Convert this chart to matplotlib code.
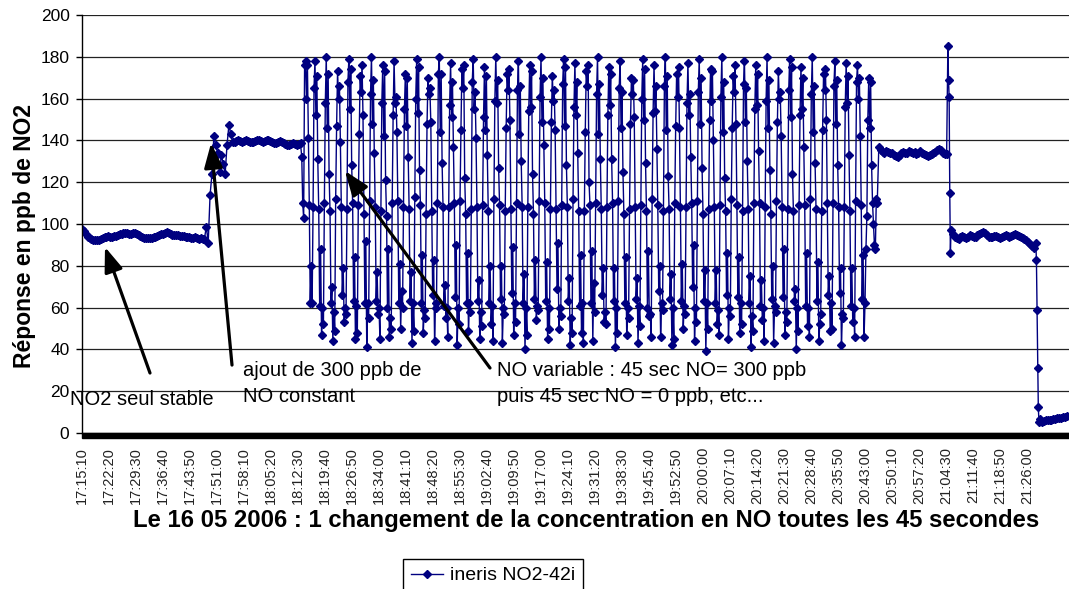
import matplotlib
matplotlib.use("Agg")
import matplotlib.pyplot as plt
from matplotlib.patches import Rectangle

plt.rcParams["font.family"] = ["Liberation Sans", "DejaVu Sans"]


def hms(s):
    """'HH:MM:SS' -> secondes depuis minuit"""
    h, m, sec = map(int, s.split(":"))
    return h * 3600 + m * 60 + sec


# libellés de l'axe des temps
time_labels = [
    "17:15:10", "17:22:20", "17:29:30", "17:36:40", "17:43:50", "17:51:00",
    "17:58:10", "18:05:20", "18:12:30", "18:19:40", "18:26:50", "18:34:00",
    "18:41:10", "18:48:20", "18:55:30", "19:02:40", "19:09:50", "19:17:00",
    "19:24:10", "19:31:20", "19:38:30", "19:45:40", "19:52:50", "20:00:00",
    "20:07:10", "20:14:20", "20:21:30", "20:28:40", "20:35:50", "20:43:00",
    "20:50:10", "20:57:20", "21:04:30", "21:11:40", "21:18:50", "21:26:00",
]

# NO2 seul
no2_stable = [
    97.5, 96.5, 95, 94, 93.2, 92.8, 92.5, 92.3, 92.5, 92.4,
    92.8, 93.2, 93.6, 94, 94.2, 94, 93.8, 94.1, 94.3, 94.6,
    95, 95.3, 95.5, 95.8, 95.6, 95.2, 95.4, 95.9, 95.7, 95.1,
    94.6, 94.2, 93.8, 93.5, 93.2, 93.4, 93.1, 93.3, 93.6, 93.9,
    94.2, 94.6, 95, 95.4, 95.8, 96, 95.6, 95.2, 94.9, 94.6,
    94.8, 94.5, 94.2, 94.4, 94.1, 93.8, 94, 93.7, 93.5, 93.2,
    93.6, 93.1, 92.8, 93.4, 92.6, 93,
]

# ajout de NO constant
no_constant = [
    98.7, 91, 114, 124, 142, 138, 134, 125, 133, 128.5, 124, 138, 147.4, 143, 139,
    139, 139.5, 140, 139.8, 139.2, 139.6, 140.2, 139.9, 139.4, 139,
    139.3, 139.8, 140.3, 140.1, 139.6, 139.2, 139.5, 140, 140.4, 139.8,
    139.1, 138.7, 138.9, 139.4, 139.8, 139.3, 138.6, 138.2, 137.6, 138,
    138.5, 138.9, 138.4, 137.9, 138.2, 138.6,
]

# NO variable : un cycle par ligne
no_variable = [
    [132, 110, 103, 176, 178, 160, 176, 141, 109, 62, 80, 62],
    [108, 165, 178, 152, 171, 131, 107, 61, 88, 47, 60, 52],
    [110, 158, 180, 146, 172, 124, 106, 62, 70, 44, 58, 49],
    [112, 147, 173, 160, 166, 139, 108, 66, 79, 53, 60, 57],
    [107, 168, 179, 155, 174, 128, 110, 63, 84, 45, 61, 48],
    [109, 143, 171, 163, 176, 152, 105, 62, 92, 41, 62, 55],
    [111, 162, 180, 148, 169, 134, 108, 63, 77, 57, 60, 45],
    [106, 158, 176, 142, 173, 121, 104, 60, 88, 46, 55, 50],
    [110, 152, 178, 158, 161, 144, 111, 62, 81, 50, 68, 60],
    [108, 155, 172, 147, 170, 132, 107, 63, 77, 43, 62, 49],
    [113, 160, 179, 153, 175, 126, 109, 62, 85, 48, 59, 55],
    [105, 148, 170, 162, 165, 149, 106, 66, 83, 44, 62, 60],
    [110, 172, 180, 144, 172, 129, 108, 61, 71, 55, 60, 46],
    [108, 157, 177, 151, 168, 137, 110, 65, 90, 42, 60, 52],
    [111, 145, 174, 165, 176, 122, 105, 62, 86, 49, 62, 58],
    [107, 168, 179, 155, 163, 141, 108, 63, 73, 45, 58, 51],
    [109, 151, 175, 145, 171, 133, 106, 62, 80, 52, 61, 44],
    [112, 159, 180, 158, 169, 127, 109, 64, 80, 43, 60, 57],
    [106, 146, 172, 164, 174, 150, 107, 67, 89, 47, 62, 53],
    [110, 164, 178, 143, 166, 130, 108, 62, 76, 40, 60, 47],
    [108, 154, 176, 156, 173, 124, 105, 64, 83, 54, 61, 59],
    [111, 161, 180, 149, 170, 138, 110, 63, 82, 45, 60, 50],
    [107, 149, 171, 159, 164, 145, 107, 69, 91, 50, 60, 56],
    [109, 167, 179, 147, 175, 128, 108, 63, 74, 42, 55, 48],
    [112, 156, 177, 152, 168, 134, 106, 61, 85, 48, 62, 43],
    [106, 144, 173, 166, 176, 120, 109, 62, 87, 44, 72, 58],
    [110, 162, 180, 143, 167, 131, 107, 66, 79, 53, 58, 52],
    [108, 152, 175, 157, 172, 131, 110, 63, 79, 41, 60, 48],
    [111, 165, 178, 146, 163, 125, 105, 62, 84, 47, 60, 55],
    [107, 148, 170, 162, 169, 151, 108, 64, 74, 43, 61, 51],
    [109, 160, 179, 150, 174, 129, 106, 60, 87, 56, 57, 46],
    [112, 153, 176, 154, 166, 136, 109, 68, 80, 46, 62, 59],
    [106, 166, 180, 145, 171, 123, 107, 64, 76, 42, 60, 45],
    [110, 147, 172, 161, 175, 146, 108, 63, 81, 50, 61, 57],
    [108, 158, 177, 152, 162, 132, 110, 70, 90, 44, 60, 53],
    [111, 163, 179, 148, 170, 127, 105, 63, 78, 39, 62, 50],
    [107, 150, 174, 159, 173, 140, 108, 62, 78, 52, 59, 47],
    [109, 161, 180, 144, 168, 122, 106, 66, 86, 45, 60, 56],
    [112, 146, 171, 163, 176, 148, 109, 65, 84, 48, 62, 52],
    [106, 167, 178, 149, 165, 130, 107, 62, 75, 41, 56, 49],
    [110, 155, 176, 157, 172, 135, 110, 61, 73, 54, 60, 44],
    [108, 159, 180, 146, 169, 126, 105, 64, 80, 43, 61, 58],
    [111, 149, 173, 160, 163, 142, 108, 65, 88, 47, 58, 53],
    [107, 164, 179, 151, 175, 124, 106, 63, 69, 40, 60, 49],
    [109, 152, 175, 155, 170, 137, 109, 61, 86, 51, 60, 46],
    [112, 162, 180, 144, 166, 129, 107, 63, 82, 44, 52, 57],
    [106, 145, 172, 164, 174, 150, 110, 66, 75, 49, 62, 50],
    [110, 166, 178, 148, 169, 128, 108, 67, 79, 42, 57, 55],
    [108, 156, 177, 158, 171, 133, 106, 61, 79, 53, 60, 46],
    [111, 168, 176, 160, 170, 142, 109, 64, 85, 46, 62, 88],
    [104, 150, 170, 146, 168, 128, 110, 100, 90, 88, 112, 110],
]

# retour NO constant
no_constant_2 = [
    137, 135.5, 134.5, 134, 135, 134.5, 133.8, 134.2, 133, 132.5,
    132, 133, 134, 134.5, 133.8, 134.2, 135, 134.6, 133.9, 134.3,
    133.5, 134, 134.8, 134.2, 133.6, 133, 132.5, 132.8, 133.4, 134,
    134.6, 135.5, 136, 135.2, 134, 133.5, 133.3,
]

pulse = [185, 169, 161, 115, 86]

no2_stable_2 = [
    97, 95, 94, 93.5, 93, 93.8, 94.2, 93.6, 93.2, 93.9,
    94.5, 94.2, 93.8, 94, 94.6, 95, 95.8, 96.3, 95.5, 94.6,
    94, 93.6, 93.9, 94.2, 94.1, 93.8, 93.5, 93.9, 94.3, 94.6,
    94.2, 93.9, 94.4, 94.8, 95, 94.5, 94.1, 93.6, 93.2, 92.8,
    92.4, 91.5, 90.5, 89.6, 88.5, 90.8,
]

drop = [83, 59, 31, 12.5, 5.5]

zero = [6.5, 5.5, 5.8, 6, 6.2, 6.1, 6.3, 6.5, 6.8, 7, 7.1, 7.3, 7.6, 7.8, 8]

# (début, pas en secondes, valeurs)
segments = [
    ("17:15:10", 30, no2_stable),
    ("17:48:10", 30, no_constant),
    ("18:13:30", 15, [v for cycle in no_variable for v in cycle]),
    ("20:46:40", 30, no_constant_2),
    ("21:05:00", 10, pulse),
    ("21:05:50", 30, no2_stable_2),
    ("21:28:30", 10, drop),
    ("21:29:30", 30, zero),
]

t, y = [], []
for start, step, values in segments:
    t0 = hms(start)
    t += [t0 + i * step for i in range(len(values))]
    y += values

fig = plt.figure(figsize=(10.69, 5.89), dpi=100)
ax = fig.add_axes([82 / 1069, 1 - 433 / 589, 987 / 1069, 418 / 589])

ax.plot(t, y, color="#000080", lw=1.0, marker="D", ms=4.3, label="ineris NO2-42i")

x0 = hms(time_labels[0])
ax.set_xlim(x0, x0 + 987 * 430 / 27)
ax.set_ylim(0, 200)

ax.set_yticks(range(0, 201, 20))
ax.yaxis.grid(True, color="#222222", lw=0.9)
ax.set_axisbelow(True)
ax.tick_params(axis="y", direction="out", length=4, width=1, pad=5, labelsize=12.5)

ax.set_xticks([hms(s) for s in time_labels])
ax.set_xticklabels(time_labels, rotation=90, fontsize=10.5, color="#222222")
ax.tick_params(axis="x", length=0, pad=10)

for side in ("top", "right"):
    ax.spines[side].set_visible(False)
ax.spines["left"].set_linewidth(1)

# bande noire sous l'axe des temps
ax.add_patch(Rectangle((0, -0.012), 1, 0.012, transform=ax.transAxes,
                       color="black", clip_on=False))

# commentaires et flèches
arrow = dict(arrowstyle="-|>,head_length=0.75,head_width=0.28", color="black",
             lw=2.3, mutation_scale=20, shrinkA=0, shrinkB=0)
ax.annotate("", xy=(hms("17:21:16"), 89), xytext=(hms("17:33:13"), 28.7), arrowprops=arrow)
ax.annotate("", xy=(hms("17:49:26"), 138.8), xytext=(hms("17:54:59"), 32.5), arrowprops=arrow)
ax.annotate("", xy=(hms("18:24:58"), 125.4), xytext=(hms("19:03:28"), 31.1), arrowprops=arrow)

ax.text(hms("17:12:00"), 15.8, "NO2 seul stable", fontsize=14.5, va="center", ha="left")
ax.text(hms("17:57:54"), 23.7, "ajout de 300 ppb de\nNO constant", fontsize=14.5,
        va="center", ha="left", linespacing=1.45)
ax.text(hms("19:05:19"), 23.7, "NO variable : 45 sec NO= 300 ppb\npuis 45 sec NO = 0 ppb, etc...",
        fontsize=14.5, va="center", ha="left", linespacing=1.45)

fig.text(25 / 1069, 1 - 236 / 589, "Réponse en ppb de NO2", rotation=90,
         fontsize=16.5, fontweight="bold", ha="center", va="center")
fig.text(586 / 1069, 1 - 520 / 589,
         "Le 16 05 2006 : 1 changement de la concentration en NO toutes les 45 secondes",
         fontsize=17.2, fontweight="bold", ha="center", va="center")

fig.legend(loc="upper left", bbox_to_anchor=(403 / 1069, 1 - 559 / 589), fontsize=14,
           frameon=True, fancybox=False, edgecolor="black", framealpha=1,
           handlelength=1.65, handletextpad=0.35, borderpad=0.4, borderaxespad=0)

fig.savefig("out.png", dpi=100)
